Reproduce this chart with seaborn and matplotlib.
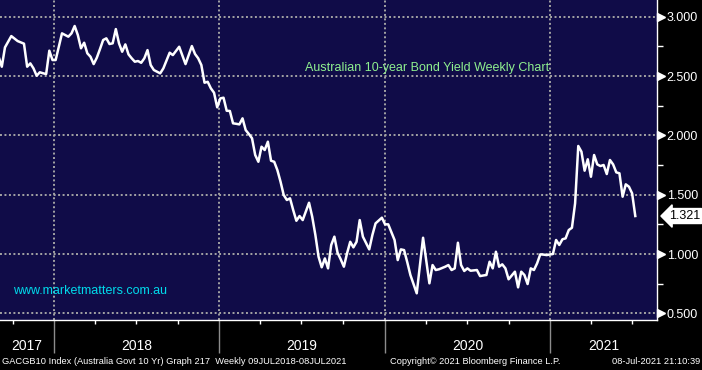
import pandas as pd
import matplotlib
matplotlib.use('Agg')
import matplotlib.pyplot as plt
import matplotlib.dates as mdates
import matplotlib.transforms as mtransforms
from matplotlib.ticker import MultipleLocator, FixedLocator, NullFormatter, FuncFormatter
import seaborn as sns

# Australian 10y govt bond yield, weekly closes (Sep 2017 - Jul 2021)
yields = [
    2.663, 2.579, 2.742, 2.789, 2.837, 2.816, 2.795, 2.784, 2.773, 2.579,
    2.607, 2.565, 2.503, 2.532, 2.524, 2.517, 2.714, 2.635, 2.635, 2.747,
    2.860, 2.846, 2.832, 2.860, 2.922, 2.846, 2.734, 2.781, 2.692, 2.663,
    2.601, 2.655, 2.728, 2.804, 2.818, 2.770, 2.776, 2.896, 2.776, 2.705,
    2.767, 2.683, 2.650, 2.621, 2.627, 2.612, 2.650, 2.719, 2.593, 2.551,
    2.537, 2.523, 2.565, 2.631, 2.697, 2.677, 2.712, 2.747, 2.675, 2.601,
    2.677, 2.753, 2.686, 2.650, 2.593, 2.444, 2.452, 2.397, 2.360, 2.237,
    2.312, 2.318, 2.208, 2.206, 2.102, 2.098, 2.093, 2.144, 2.045, 2.012,
    1.976, 1.835, 1.778, 1.905, 1.877, 1.947, 1.787, 1.778, 1.708, 1.610,
    1.498, 1.456, 1.470, 1.371, 1.281, 1.321, 1.287, 1.360, 1.433, 1.315,
    1.161, 0.978, 0.889, 0.964, 0.880, 1.077, 1.147, 1.012, 0.956, 0.894,
    1.007, 1.104, 1.057, 1.104, 1.287, 1.147, 1.093, 1.040, 1.161, 1.259,
    1.283, 1.307, 1.251, 1.251, 1.185, 1.119, 0.950, 1.040, 1.034, 0.933,
    0.824, 0.748, 0.670, 0.904, 1.138, 0.946, 0.754, 0.908, 0.866, 0.872,
    0.883, 0.894, 0.908, 0.866, 0.880, 1.096, 0.908, 0.858, 0.880, 0.860,
    0.863, 0.866, 0.815, 0.820, 0.824, 0.936, 0.880, 1.020, 0.894, 0.914,
    0.880, 0.788, 0.820, 0.852, 0.720, 0.852, 0.824, 0.748, 0.880, 0.866,
    0.922, 0.998, 0.996, 0.992, 0.997, 1.001, 1.119, 1.077, 1.125, 1.133,
    1.203, 1.222, 1.428, 1.911, 1.863, 1.703, 1.799, 1.652, 1.835, 1.756,
    1.742, 1.751, 1.675, 1.793, 1.756, 1.689, 1.681, 1.484, 1.588, 1.568,
    1.512, 1.321,
]
end_date = '2021-07-08'
x_range = ['2017-09-03', '2021-08-25']
y_range = [0.445, 3.141]
y_ticks = [0.5, 1.0, 1.5, 2.0, 2.5, 3.0]
years = [2017, 2018, 2019, 2020, 2021]

title = 'Australian 10-year Bond Yield Weekly Chart'
watermark = 'www.marketmatters.com.au'
footer_left = 'GACGB10 Index (Australia Govt 10 Yr) Graph 217  Weekly 09JUL2018-08JUL2021'
footer_mid = 'Copyright\u00a9 2021 Bloomberg Finance L.P.'
footer_right = '08-Jul-2021 21:10:39'

NAVY = '#100c48'
GRID = '#a4a4a4'
plt.rcParams['font.family'] = ['Liberation Sans', 'DejaVu Sans']

dates = pd.date_range(end=end_date, periods=len(yields), freq='W-THU')
df = pd.DataFrame({'date': dates, 'yield': yields})

fig = plt.figure(figsize=(7.02, 3.70), dpi=100, facecolor='black')
ax = fig.add_axes([0, 50 / 370, 657 / 702, 320 / 370])
ax.set_facecolor(NAVY)

sns.lineplot(data=df, x='date', y='yield', ax=ax, color='white', lw=1.8)

ax.set_xlim(pd.Timestamp(x_range[0]), pd.Timestamp(x_range[1]))
ax.set_ylim(*y_range)
ax.set_xlabel('')
ax.set_ylabel('')

# spines
for s in ['top', 'left']:
    ax.spines[s].set_visible(False)
for s in ['right', 'bottom']:
    ax.spines[s].set_color('white')
    ax.spines[s].set_linewidth(1.0)

# x axis: year separators + quarterly ticks
ax.xaxis.set_major_locator(mdates.YearLocator())
ax.xaxis.set_minor_locator(mdates.MonthLocator(bymonth=[1, 4, 7, 10]))
ax.xaxis.set_major_formatter(NullFormatter())
ax.tick_params(axis='x', which='major', length=24, width=1, color='#8c8c8c', direction='out')
ax.tick_params(axis='x', which='minor', length=3, width=1, color='white', direction='out')

# y axis on the right
ax.yaxis.tick_right()
ax.yaxis.set_major_locator(FixedLocator(y_ticks))
ax.yaxis.set_minor_locator(MultipleLocator(0.25))
ax.yaxis.set_major_formatter(FuncFormatter(lambda v, p: f'{v:.3f}'))
ax.tick_params(axis='y', which='major', length=0, pad=7, labelsize=9, labelcolor='white')
ax.tick_params(axis='y', which='minor', length=4, width=1, color='white', direction='out')

trans_y = mtransforms.blended_transform_factory(ax.transAxes, ax.transData)
ax.plot([1.0068] * len(y_ticks), y_ticks, ls='none', marker='>', ms=5.5,
        color='white', transform=trans_y, clip_on=False)

ax.grid(True, which='major', color=GRID, linestyle=(0, (1, 1.3)), linewidth=1.4)

# year labels centred in the visible part of each year
trans_x = mtransforms.blended_transform_factory(ax.transData, ax.transAxes)
x_lo, x_hi = ax.get_xlim()
for yr in years:
    a = max(mdates.date2num(pd.Timestamp(f'{yr}-01-01')), x_lo)
    b = min(mdates.date2num(pd.Timestamp(f'{yr + 1}-01-01')), x_hi)
    ax.text((a + b) / 2, -0.082, str(yr), transform=trans_x, ha='center', va='center',
            color='white', fontsize=10)

# last value tag
ax.text(1.018, yields[-1], f'{yields[-1]:.3f}', transform=trans_y, ha='left', va='center',
        fontsize=9, color='black', clip_on=False,
        bbox=dict(boxstyle='larrow,pad=0.12', fc='white', ec='white'))

ax.text(0.464, 0.787, title, transform=ax.transAxes, color='#8ff08f', fontsize=9,
        ha='left', va='center')
ax.text(0.02, 0.091, watermark, transform=ax.transAxes, color='#00dcec', fontsize=9,
        ha='left', va='center')

fig.text(0.003, 0.022, footer_left, color='white', fontsize=6.7, ha='left', va='center')
fig.text(0.556, 0.022, footer_mid, color='white', fontsize=6.7, ha='left', va='center')
fig.text(0.998, 0.022, footer_right, color='white', fontsize=6.7, ha='right', va='center')

fig.savefig('out.png', dpi=100, facecolor='black')
